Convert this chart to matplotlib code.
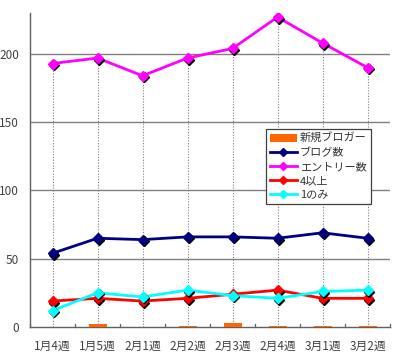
import matplotlib
matplotlib.use("Agg")
import matplotlib.pyplot as plt
import matplotlib.transforms as mtransforms
from matplotlib.lines import Line2D
from matplotlib.patches import Patch
import numpy as np

plt.rcParams['font.family'] = ['Noto Sans CJK JP', 'DejaVu Sans']

categories = ["1月4週", "1月5週", "2月1週", "2月2週", "2月3週", "2月4週", "3月1週", "3月2週"]
new_bloggers = [0, 2, 0, 1, 3, 1, 1, 1]
blog_count = [54, 65, 64, 66, 66, 65, 69, 65]
entry_count = [193, 197, 184, 197, 204, 227, 208, 190]
four_plus = [19, 21, 19, 21, 24, 27, 21, 21]
one_only = [12, 25, 22, 27, 23, 21, 26, 27]

series = [
    ("ブログ数", blog_count, "#000080"),
    ("エントリー数", entry_count, "#FF00FF"),
    ("4以上", four_plus, "#FF0000"),
    ("1のみ", one_only, "#00FFFF"),
]

fig = plt.figure(figsize=(4.0, 3.54), dpi=100)
ax = fig.add_axes([0.075, 0.0763, 0.9, 0.887])
x = np.arange(len(categories))

ax.set_xlim(-0.5, len(categories) - 0.5)
ax.set_ylim(0, 230)

for yv in [50, 100, 150, 200]:
    ax.axhline(yv, color="#808080", lw=1.0, zorder=1)

# drop lines
tops = np.max(np.array([s[1] for s in series]), axis=0)
ax.vlines(x, 0, tops, colors="#808080", linestyles=(0, (1.0, 1.5)), lw=0.8, zorder=2)

ax.bar(x, new_bloggers, width=0.4, color="#FF6600", zorder=3)

shadow = mtransforms.offset_copy(ax.transData, fig=fig, x=1.1, y=-1.1, units='points')
z = 4
for name, vals, col in series:
    ax.plot(x, vals, color=col, lw=2.0, zorder=z)
    ax.plot(x, vals, ls='none', marker='D', ms=5.5, color='black', transform=shadow, zorder=z + 0.1)
    ax.plot(x, vals, ls='none', marker='D', ms=5.5, color=col, zorder=z + 0.2)
    z += 1

ax.set_yticks([0, 50, 100, 150, 200])
ax.set_xticks(x)
ax.set_xticklabels(categories)
ax.tick_params(axis='y', length=0, pad=8, labelsize=8.5, labelcolor="#404040")
ax.tick_params(axis='x', length=0, pad=9, labelsize=8.5, labelcolor="#404040")
for b in np.arange(-0.5, len(categories), 1.0):
    ax.plot([b, b], [0, 2.5], color="#606060", lw=0.9, zorder=2, clip_on=False)

for s in ['top', 'right']:
    ax.spines[s].set_visible(False)
for s in ['left', 'bottom']:
    ax.spines[s].set_color("#606060")
    ax.spines[s].set_linewidth(1.0)

handles = [Patch(facecolor="#FF6600", edgecolor="none", label="新規ブロガー")]
for name, vals, col in series:
    handles.append(Line2D([0], [0], color=col, lw=2, marker='D', ms=4, label=name))

leg = fig.legend(handles=handles, loc='upper left', bbox_to_anchor=(266 / 400, 1 - 129 / 354),
                 bbox_transform=fig.transFigure, borderaxespad=0, fontsize=8,
                 frameon=True, fancybox=False, edgecolor="#404040", framealpha=1,
                 handlelength=2.4, handletextpad=0.3, labelspacing=0.35, borderpad=0.35)
leg.get_frame().set_linewidth(0.9)
for t in leg.get_texts():
    t.set_color("#333333")

fig.savefig("out.png", dpi=100)
